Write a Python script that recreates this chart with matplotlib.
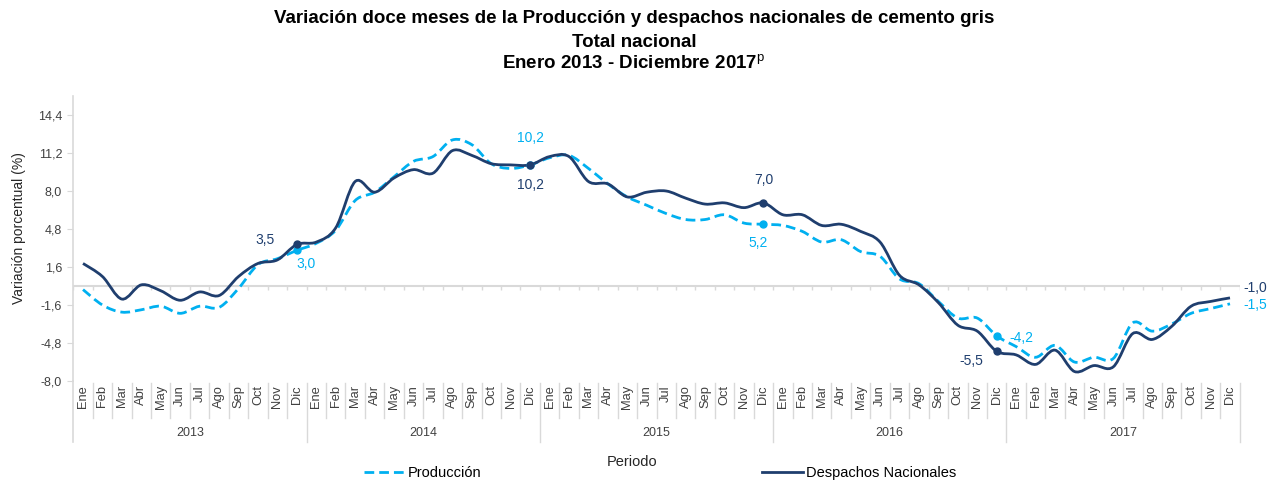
import matplotlib
matplotlib.use("Agg")
import matplotlib.pyplot as plt
from matplotlib.path import Path
from matplotlib.patches import PathPatch
from matplotlib.lines import Line2D
import numpy as np

plt.rcParams['font.family'] = ['Liberation Sans', 'DejaVu Sans']
plt.rcParams['mathtext.fontset'] = 'custom'
plt.rcParams['mathtext.bf'] = 'Liberation Sans:bold'
plt.rcParams['mathtext.rm'] = 'Liberation Sans'

# --- data ---
years = ["2013", "2014", "2015", "2016", "2017"]
months = ["Ene", "Feb", "Mar", "Abr", "May", "Jun",
          "Jul", "Ago", "Sep", "Oct", "Nov", "Dic"]

produccion = [
    -0.3, -1.6, -2.2, -2.0, -1.7, -2.3, -1.7, -1.8, -0.2, 1.8, 2.3, 3.0,
    3.6, 4.7, 7.2, 7.9, 9.2, 10.5, 10.9, 12.3, 11.9, 10.3, 9.9, 10.2,
    10.8, 11.0, 9.9, 8.6, 7.5, 6.8, 6.1, 5.6, 5.6, 6.0, 5.3, 5.2,
    5.1, 4.6, 3.7, 3.9, 2.9, 2.5, 0.6, 0.2, -1.3, -2.7, -2.7, -4.2,
    -5.1, -6.0, -5.0, -6.4, -6.0, -6.1, -3.1, -3.8, -3.2, -2.3, -1.9, -1.5,
]
despachos = [
    1.9, 0.8, -1.1, 0.1, -0.4, -1.2, -0.5, -0.8, 0.8, 1.9, 2.2, 3.5,
    3.7, 4.9, 8.8, 7.9, 9.1, 9.8, 9.5, 11.4, 11.0, 10.3, 10.2, 10.2,
    10.9, 10.9, 8.8, 8.6, 7.5, 7.9, 8.0, 7.4, 6.9, 7.0, 6.6, 7.0,
    6.0, 6.0, 5.1, 5.2, 4.6, 3.7, 0.9, 0.1, -1.4, -3.3, -3.8, -5.5,
    -5.8, -6.6, -5.4, -7.2, -6.7, -6.8, -4.0, -4.5, -3.4, -1.7, -1.3, -1.0,
]
yticks = [-8.0, -4.8, -1.6, 1.6, 4.8, 8.0, 11.2, 14.4]

# labelled points: (index, dx, dy) offsets in pixels
labels_prod = [(11, 9, -14), (23, 0, 27), (35, -5, -19), (47, 25, -2), (59, 25, -1)]
labels_desp = [(11, -32, 4), (23, 0, -20), (35, 0, 23), (47, -25, -10), (59, 25, 10)]

C_DARK = '#1f3e6e'
C_LIGHT = '#00b0f0'
C_TEXT = '#404040'
C_GRID = '#d9d9d9'


def smooth_path(y):
    """Excel-like smoothed line: cubic bezier segments through every point."""
    x = np.arange(len(y), dtype=float)
    y = np.asarray(y, dtype=float)
    pts = np.column_stack([x, y])
    verts = [pts[0]]
    codes = [Path.MOVETO]
    n = len(pts)
    for i in range(n - 1):
        p0 = pts[i - 1] if i > 0 else pts[i]
        p1 = pts[i]
        p2 = pts[i + 1]
        p3 = pts[i + 2] if i + 2 < n else pts[i + 1]
        c1 = p1 + (p2 - p0) / 6.0
        c2 = p2 - (p3 - p1) / 6.0
        verts += [c1, c2, p2]
        codes += [Path.CURVE4] * 3
    return Path(verts, codes)


fig = plt.figure(figsize=(12.68, 4.82), dpi=100)
ax = fig.add_axes([0.0578, 0.2095, 0.9199, 0.5913])

n = len(produccion)
ax.set_xlim(-0.5, n - 0.5)
ax.set_ylim(-8.0, 16.0)

# zero line with small ticks at category boundaries
ax.axhline(0, color=C_GRID, lw=1.5, zorder=1)
ax.vlines(np.arange(n + 1) - 0.5, -0.3, 0, color=C_GRID, lw=1, zorder=1)

ax.add_patch(PathPatch(smooth_path(produccion), fill=False, edgecolor=C_LIGHT,
                       lw=2.0, linestyle=(0, (3.5, 1.8)), zorder=3, capstyle='butt'))
ax.add_patch(PathPatch(smooth_path(despachos), fill=False, edgecolor=C_DARK,
                       lw=2.0, zorder=4))

dic = [i for i in range(n) if i % 12 == 11]
ax.plot(dic[:-1], [produccion[i] for i in dic[:-1]], 'o', color=C_LIGHT, ms=5, zorder=5)
ax.plot(dic[:-1], [despachos[i] for i in dic[:-1]], 'o', color=C_DARK, ms=5, zorder=6)


def fmt(v):
    return f"{v:.1f}".replace('.', ',')


for i, dx, dy in labels_prod:
    ax.annotate(fmt(produccion[i]), (i, produccion[i]), xytext=(dx, dy),
                textcoords='offset pixels', ha='center', va='center',
                color=C_LIGHT, fontsize=10)
for i, dx, dy in labels_desp:
    ax.annotate(fmt(despachos[i]), (i, despachos[i]), xytext=(dx, dy),
                textcoords='offset pixels', ha='center', va='center',
                color=C_DARK, fontsize=10)

# y axis
for s in ['top', 'right', 'bottom']:
    ax.spines[s].set_visible(False)
ax.spines['left'].set_color(C_GRID)
ax.spines['left'].set_linewidth(1.2)
ax.spines['left'].set_bounds(-8.0, 16.0)
ax.set_yticks(yticks)
ax.set_yticklabels([fmt(v) for v in yticks])
ax.tick_params(axis='y', direction='out', length=4, color=C_GRID,
               labelsize=9, labelcolor=C_TEXT, pad=4)
ax.set_xticks([])

# category axis (months + years) below the plot
trans = ax.get_xaxis_transform()
ax.plot([-0.5, -0.5], [0, -0.214], transform=trans, color=C_GRID, lw=1.2, clip_on=False)
for i in range(n):
    ax.text(i, -0.014, months[i % 12], transform=trans, rotation=90,
            ha='center', va='top', fontsize=9.3, color=C_TEXT)
    b = i + 0.5
    if (i + 1) % 12 == 0:
        ax.plot([b, b], [-0.007, -0.214], transform=trans, color=C_GRID, lw=1, clip_on=False)
    else:
        ax.plot([b, b], [-0.007, -0.13], transform=trans, color=C_GRID, lw=1, clip_on=False)
for k, yr in enumerate(years):
    ax.text(k * 12 + 5.5, -0.182, yr, transform=trans, ha='center', va='center',
            fontsize=9, color=C_TEXT)

fig.text(0.4985, 0.041, "Periodo", ha='center', va='center', fontsize=10.5, color='#262626')
fig.text(0.015, 0.527, "Variación porcentual (%)", rotation=90, ha='center', va='center',
         fontsize=10, color='#262626')

fig.text(0.5, 0.962, "Variación doce meses de la Producción y despachos nacionales de cemento gris",
         ha='center', va='center', fontsize=13.5, fontweight='bold')
fig.text(0.5, 0.912, "Total nacional", ha='center', va='center', fontsize=13.5, fontweight='bold')
fig.text(0.5, 0.868, r"Enero 2013 - Diciembre 2017$^{\mathrm{p}}$", ha='center', va='center',
         fontsize=13.5, fontweight='bold')

handles = [Line2D([], [], color=C_LIGHT, lw=2.0, linestyle=(0, (3.5, 1.8))),
           Line2D([], [], color=C_DARK, lw=2.0)]
fig.legend(handles, ["Producción", "Despachos Nacionales"], loc='center',
           bbox_to_anchor=(0.5205, 0.018), ncol=2, frameon=False, fontsize=10.5,
           handlelength=2.8, handletextpad=0.25, columnspacing=19.2, borderpad=0)

fig.savefig("out.png", dpi=100)
